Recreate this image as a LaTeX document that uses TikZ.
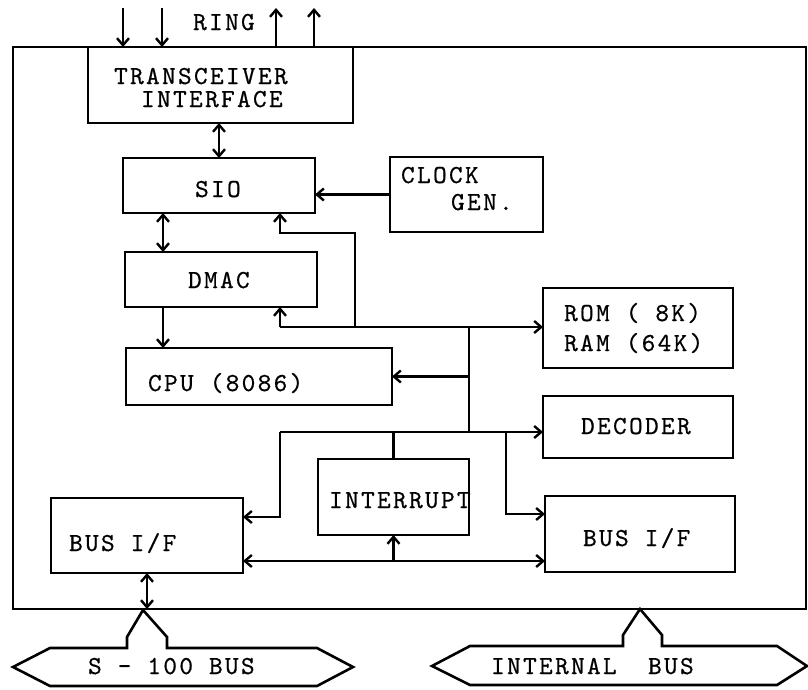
\documentclass[tikz,border=0pt]{standalone}
\usepackage{fontspec}
\newfontfamily\mono{lmmono10-regular.otf}[LetterSpace=9,FakeBold=0.6]
\usetikzlibrary{arrows.meta}
\begin{document}
\begin{tikzpicture}[x=1pt,y=-1pt, line width=2.2pt, line join=miter,
  box/.style={draw, line width=2.4pt, inner sep=0pt, outer sep=0pt},
  txt/.style={font=\mono\fontsize{26}{26}\selectfont, inner sep=0pt, text height=16pt, text depth=0pt, anchor=west},
  tip/.tip={Straight Barb[length=7pt,width=12pt,line width=2.4pt]},
  arr/.style={-tip},
  dbl/.style={tip-tip},
]
\useasboundingbox (0,0) rectangle (808,689);
% frame and boxes
\node[box, line width=2.8pt, minimum width=793, minimum height=562] (frame) at (409.5,328) {};
\node[box, fill=white, minimum width=265, minimum height=76] (trx) at (220.5,85) {};
\node[box, minimum width=192, minimum height=55] (sio) at (219,185.5) {};
\node[box, minimum width=153, minimum height=75] (clk) at (466.5,194.5) {};
\node[box, minimum width=192, minimum height=55] (dmac) at (221,279.5) {};
\node[box, minimum width=266, minimum height=57] (cpu) at (259,376.5) {};
\node[box, minimum width=190, minimum height=80] (rom) at (638,328) {};
\node[box, minimum width=190, minimum height=62] (dec) at (638,427) {};
\node[box, minimum width=151, minimum height=76] (intr) at (393.5,497) {};
\node[box, minimum width=192, minimum height=75] (bifl) at (147,535.5) {};
\node[box, minimum width=190, minimum height=76] (bifr) at (640,534) {};
% texts
\node[txt] (tring) at (192,22) {RING};
\node[txt] (ttrx1) at (113,76) {TRANSCEIVER};
\node[txt] (ttrx2) at (140,99) {INTERFACE};
\node[txt] (tsio) at (194,189) {SIO};
\node[txt] (tdmac) at (187,280) {DMAC};
\node[txt] (tcpu) at (147,383) {CPU (8086)};
\node[txt] (tclk1) at (400,175) {CLOCK};
\node[txt] (tclk2) at (450,202) {GEN.};
\node[txt] (trom) at (563,313) {ROM ( 8K)};
\node[txt] (tram) at (563,343) {RAM (64K)};
\node[txt] (tdec) at (580,426) {DECODER};
\node[txt] (tint) at (328,500) {INTERRUPT};
\node[txt] (tbifl) at (68,543) {BUS I/F};
\node[txt] (tbifr) at (582,538) {BUS I/F};
\node[txt] (ts100) at (87,666) {S - 100 BUS};
\node[txt] (tib1) at (490,666) {INTERNAL};
\node[txt] (tib2) at (647,666) {BUS};
% ring arrows
\coordinate (r1) at (123,8);
\coordinate (r2) at (162,8);
\coordinate (r3) at (276,8);
\coordinate (r4) at (314,8);
\draw[arr] (r1) -- (r1 |- trx.north);
\draw[arr] (r2) -- (r2 |- trx.north);
\draw[arr] (r3 |- trx.north) -- (r3);
\draw[arr] (r4 |- trx.north) -- (r4);
% upper connectors
\draw[dbl] (sio.north |- trx.south) -- (sio.north);
\draw[arr] (clk.west) -- (clk.west -| sio.east);
\draw[dbl] ([xshift=-56pt]sio.south) -- ([xshift=-56pt]sio.south |- dmac.north);
\draw[arr] ([xshift=-58pt]dmac.south) -- ([xshift=-58pt]dmac.south |- cpu.north);
% bus network
\coordinate (a1) at (280,233);
\coordinate (bus) at (280,327);
\coordinate (bj) at (355,327);
\coordinate (vt) at (469,327);
\coordinate (vb) at (469,432);
\coordinate (l1) at (280,432);
\coordinate (r5) at (506,432);
\coordinate (b1) at (243,517);
\coordinate (b2) at (545,514);
\coordinate (b3) at (243,561);
\draw[arr] (bj) |- (a1) -- (a1 |- sio.south);
\draw[arr] (bus) -- (bus |- dmac.south);
\draw[arr] (bus) -- (bus -| rom.west);
\draw (vt) -- (vb);
\draw[arr] (vt |- cpu.east) -- (cpu.east);
\draw[arr] (l1) -- (l1 -| dec.west);
\draw[arr] (l1) |- (b1 -| bifl.east);
\draw (intr.north) -- (intr.north |- l1);
\draw[arr] (r5) |- (b2 -| bifr.west);
\draw[dbl] (b3 -| bifl.east) -- (b3 -| bifr.west);
\draw[arr] (intr.south |- b3) -- (intr.south);
\draw[dbl] (bifl.south) -- (bifl.south |- frame.south);
% bus symbols
\draw[line width=2.6pt] (50,648) -- (127,648) -- (127,637) -- (143,610) -- (167,637) -- (167,648)
  -- (317,648) -- (353,667) -- (317,686) -- (50,686) -- (13,667) -- cycle;
\draw[line width=2.6pt] (470,646) -- (623,646) -- (623,635) -- (640,609) -- (662,635) -- (662,646)
  -- (777,646) -- (807,666) -- (777,685) -- (470,685) -- (432,666) -- cycle;
\end{tikzpicture}
\end{document}
